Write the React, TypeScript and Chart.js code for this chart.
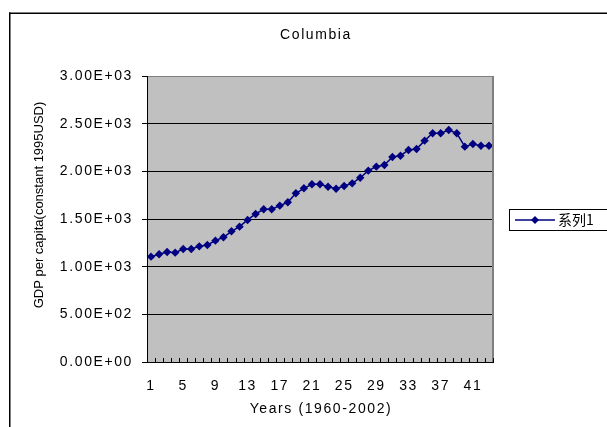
import { useEffect, useRef } from "react";
import { Chart, registerables } from "chart.js";

Chart.register(...registerables);

// Years 1960-2002 numbered 1..43
const yearIndex = [
  "1", "2", "3", "4", "5", "6", "7", "8", "9", "10",
  "11", "12", "13", "14", "15", "16", "17", "18", "19", "20",
  "21", "22", "23", "24", "25", "26", "27", "28", "29", "30",
  "31", "32", "33", "34", "35", "36", "37", "38", "39", "40",
  "41", "42", "43",
];

// GDP per capita, constant 1995 USD
const gdpPerCapita = [
  1105, 1130, 1154, 1147, 1185, 1185, 1213, 1227, 1273, 1308,
  1371, 1420, 1490, 1553, 1602, 1602, 1640, 1675, 1770, 1822,
  1864, 1864, 1839, 1818, 1846, 1874, 1933, 2007, 2049, 2067,
  2150, 2164, 2224, 2234, 2322, 2399, 2399, 2434, 2399, 2259,
  2287, 2269, 2269,
];

const yTickLabels = [
  "0.00E+00", "5.00E+02", "1.00E+03", "1.50E+03",
  "2.00E+03", "2.50E+03", "3.00E+03",
];

const chartTitle = "Columbia";
const xAxisTitle = "Years (1960-2002)";
const yAxisTitle = "GDP per capita(constant 1995USD)";
const seriesName = "系列1";

const FONT = '"Liberation Sans", Arial, sans-serif';
const NAVY = "#000080";

const framePlugin = {
  id: "excelFrame",
  beforeDraw(chart: any) {
    const ctx = chart.ctx as CanvasRenderingContext2D;
    const { left, top, right, bottom } = chart.chartArea;
    ctx.save();
    ctx.fillStyle = "#ffffff";
    ctx.fillRect(0, 0, chart.width, chart.height);
    ctx.fillStyle = "#C0C0C0";
    ctx.fillRect(left, top, right - left, bottom - top);
    ctx.restore();
    (ctx as any).letterSpacing = "1.6px";
  },
  afterDraw(chart: any) {
    const ctx = chart.ctx as CanvasRenderingContext2D;
    const { left, top, right, bottom } = chart.chartArea;
    const xs = chart.scales.x;
    ctx.save();
    (ctx as any).letterSpacing = "0px";

    // outer chart frame
    ctx.fillStyle = "#000";
    ctx.fillRect(9, 12.5, chart.width - 9, 1.5);
    ctx.fillRect(9, 12.5, 1.5, chart.height - 12.5);

    // plot area right edge
    ctx.strokeStyle = "#808080";
    ctx.lineWidth = 2;
    ctx.beginPath();
    ctx.moveTo(right, top);
    ctx.lineTo(right, bottom);
    ctx.stroke();

    // category tick marks, pointing into the plot
    const step = xs.getPixelForValue(1) - xs.getPixelForValue(0);
    ctx.strokeStyle = "#000";
    ctx.lineWidth = 1;
    ctx.beginPath();
    for (let i = 0; i <= yearIndex.length; i++) {
      const x = Math.round(xs.getPixelForValue(i) - step / 2) + 0.5;
      ctx.moveTo(x, bottom);
      ctx.lineTo(x, bottom - 4);
    }
    ctx.stroke();

    // titles
    ctx.fillStyle = "#000";
    ctx.textAlign = "center";
    ctx.textBaseline = "middle";
    (ctx as any).letterSpacing = "1.6px";
    ctx.font = `14px ${FONT}`;
    ctx.fillText(chartTitle, 316, 35);
    ctx.fillText(xAxisTitle, 321, 409);

    (ctx as any).letterSpacing = "0px";
    ctx.save();
    ctx.translate(39, 205);
    ctx.rotate(-Math.PI / 2);
    ctx.font = `13px ${FONT}`;
    ctx.fillText(yAxisTitle, 0, 0);
    ctx.restore();

    // legend
    ctx.strokeStyle = "#000";
    ctx.lineWidth = 1;
    ctx.strokeRect(509.5, 209.5, 120, 21);
    ctx.strokeStyle = NAVY;
    ctx.lineWidth = 1.5;
    ctx.beginPath();
    ctx.moveTo(515, 220);
    ctx.lineTo(555, 220);
    ctx.stroke();
    ctx.fillStyle = NAVY;
    ctx.beginPath();
    ctx.moveTo(535, 216);
    ctx.lineTo(539, 220);
    ctx.lineTo(535, 224);
    ctx.lineTo(531, 220);
    ctx.closePath();
    ctx.fill();
    ctx.fillStyle = "#000";
    ctx.textAlign = "left";
    ctx.font = `14px "Noto Sans CJK SC", ${FONT}`;
    ctx.fillText(seriesName, 558, 220);
    ctx.restore();
  },
};

export default function App() {
  const canvasRef = useRef<HTMLCanvasElement | null>(null);

  useEffect(() => {
    const canvas = canvasRef.current;
    if (!canvas) return;
    document.body.style.overflow = "hidden";

    const chart = new Chart(canvas, {
      type: "line",
      data: {
        labels: yearIndex,
        datasets: [
          {
            label: seriesName,
            data: gdpPerCapita,
            borderColor: NAVY,
            backgroundColor: NAVY,
            borderWidth: 1.5,
            pointStyle: "rectRot",
            pointRadius: 4.2,
            pointBorderWidth: 0,
            tension: 0,
          },
        ],
      },
      options: {
        responsive: false,
        animation: false,
        devicePixelRatio: 1,
        layout: { padding: { left: 0, right: 114, top: 76, bottom: 0 } },
        plugins: {
          legend: { display: false },
          title: { display: false },
          tooltip: { enabled: false },
        },
        font: { family: FONT },
        scales: {
          x: {
            type: "category",
            offset: true,
            afterFit: (s: any) => {
              s.height = 65;
            },
            grid: { display: false, drawTicks: false },
            border: { display: true, color: "#000", width: 1 },
            ticks: {
              autoSkip: false,
              maxRotation: 0,
              minRotation: 0,
              padding: 16,
              color: "#000",
              font: { family: FONT, size: 14 },
              callback: (_v: any, i: number) => (i % 4 === 0 ? yearIndex[i] : ""),
            },
          },
          y: {
            min: 0,
            max: 3000,
            afterFit: (s: any) => {
              s.width = 147;
            },
            grid: {
              color: (c: any) => (c.tick && c.tick.value === 3000 ? "#808080" : "#000"),
              lineWidth: 1,
              drawTicks: true,
              tickLength: 5,
              tickColor: "#000",
            },
            border: { display: true, color: "#000", width: 1 },
            ticks: {
              stepSize: 500,
              padding: 9,
              color: "#000",
              font: { family: FONT, size: 14 },
              callback: (v: any) => yTickLabels[Math.round(Number(v) / 500)],
            },
          },
        },
      },
      plugins: [framePlugin],
    } as any);

    return () => chart.destroy();
  }, []);

  return (
    <canvas
      ref={canvasRef}
      width={607}
      height={427}
      style={{ position: "fixed", left: 0, top: 0, width: 607, height: 427 }}
    />
  );
}
